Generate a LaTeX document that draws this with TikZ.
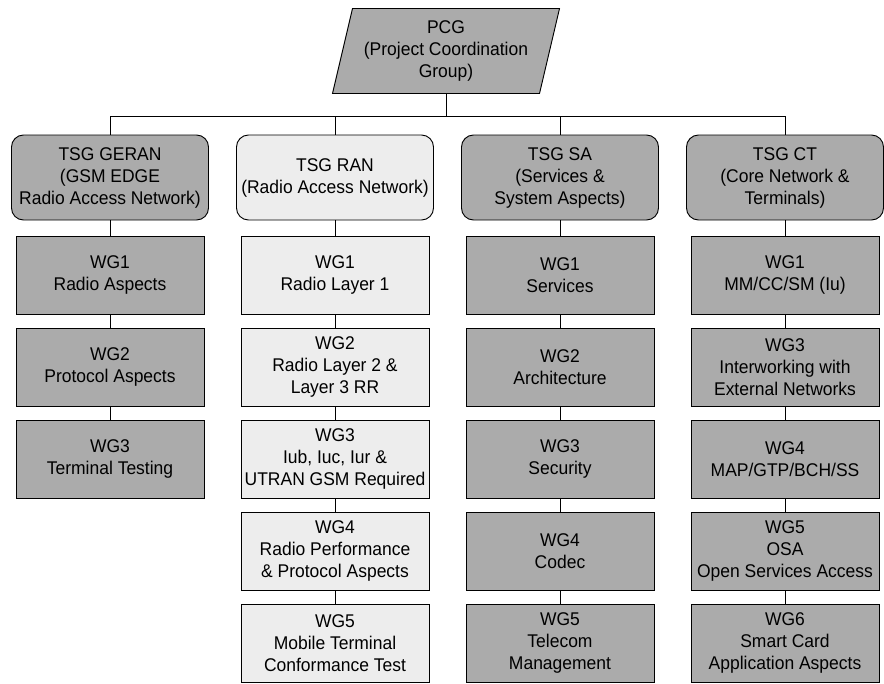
\documentclass[tikz,border=0pt]{standalone}
\usepackage{fontspec}
\setmainfont{Liberation Sans}[FakeStretch=0.95]
\usetikzlibrary{calc}
\begin{document}
\begin{tikzpicture}[x=0.75pt,y=-0.75pt,
  every node/.style={font=\fontsize{13.8}{16.5}\selectfont, align=center, inner sep=0pt},
  outline/.style={draw=black, line width=0.7pt},
  dark/.style={fill=black!33},
  light/.style={fill=black!7},
  tsgbox/.style={outline, rounded corners=9pt, minimum width=147.75pt, minimum height=63.75pt},
  wgbox/.style={outline, minimum width=141pt, minimum height=58.5pt},
  link/.style={draw=black, line width=0.7pt}]
\useasboundingbox (0,0) rectangle (884,683);

% Project Coordination Group (parallelogram)
\coordinate (pcgc) at (446,51);
\filldraw[outline, dark] ($(pcgc)+(-93.5,-42.5)$) -- ($(pcgc)+(113.5,-42.5)$)
  -- ($(pcgc)+(93.5,42.5)$) -- ($(pcgc)+(-113.5,42.5)$) -- cycle;
\node (pcg) [minimum width=150pt, minimum height=63.75pt] at (pcgc)
  {PCG\\(Project Coordination\\Group)};
\coordinate (bus) at (0,116);

% Technical Specification Groups
\node (geran) [tsgbox, dark]  at (110,177.5) {TSG GERAN\\(GSM EDGE\\Radio Access Network)};
\node (ran)   [tsgbox, light] at (335,177.5) {TSG RAN\\(Radio Access Network)};
\node (sa)    [tsgbox, dark]  at (560,177.5) {TSG SA\\(Services \&\\System Aspects)};
\node (ct)    [tsgbox, dark]  at (785,177.5) {TSG CT\\(Core Network \&\\Terminals)};

% Working groups: GERAN
\node (g1) [wgbox, dark] at (110,275) {WG1\\Radio Aspects};
\node (g2) [wgbox, dark] at (110,367) {WG2\\Protocol Aspects};
\node (g3) [wgbox, dark] at (110,459) {WG3\\Terminal Testing};

% Working groups: RAN
\node (r1) [wgbox, light] at (335,275) {WG1\\Radio Layer 1};
\node (r2) [wgbox, light] at (335,367) {WG2\\Radio Layer 2 \&\\Layer 3 RR};
\node (r3) [wgbox, light] at (335,459) {WG3\\Iub, Iuc, Iur \&\\UTRAN GSM Required};
\node (r4) [wgbox, light] at (335,551) {WG4\\Radio Performance\\\& Protocol Aspects};
\node (r5) [wgbox, light] at (335,643) {WG5\\Mobile Terminal\\Conformance Test};

% Working groups: SA
\node (s1) [wgbox, dark] at (560,275) {WG1\\Services};
\node (s2) [wgbox, dark] at (560,367) {WG2\\Architecture};
\node (s3) [wgbox, dark] at (560,459) {WG3\\Security};
\node (s4) [wgbox, dark] at (560,551) {WG4\\Codec};
\node (s5) [wgbox, dark] at (560,643) {WG5\\Telecom\\Management};

% Working groups: CT
\node (c1) [wgbox, dark] at (785,275) {WG1\\MM/CC/SM (Iu)};
\node (c3) [wgbox, dark] at (785,367) {WG3\\Interworking with\\External Networks};
\node (c4) [wgbox, dark] at (785,459) {WG4\\MAP/GTP/BCH/SS};
\node (c5) [wgbox, dark] at (785,551) {WG5\\OSA\\Open Services Access};
\node (c6) [wgbox, dark] at (785,643) {WG6\\Smart Card\\Application Aspects};

% Tree connectors
\draw[link] (pcg.south |- pcgc) ++(0,42.5) -- (pcg.south |- bus);
\draw[link] (geran.north) -- (geran.north |- bus) -- (ct.north |- bus) -- (ct.north);
\draw[link] (ran.north) -- (ran.north |- bus);
\draw[link] (sa.north) -- (sa.north |- bus);

\draw[link] (geran) -- (g1) (g1) -- (g2) (g2) -- (g3);
\draw[link] (ran) -- (r1) (r1) -- (r2) (r2) -- (r3) (r3) -- (r4) (r4) -- (r5);
\draw[link] (sa) -- (s1) (s1) -- (s2) (s2) -- (s3) (s3) -- (s4) (s4) -- (s5);
\draw[link] (ct) -- (c1) (c1) -- (c3) (c3) -- (c4) (c4) -- (c5) (c5) -- (c6);
\end{tikzpicture}
\end{document}
